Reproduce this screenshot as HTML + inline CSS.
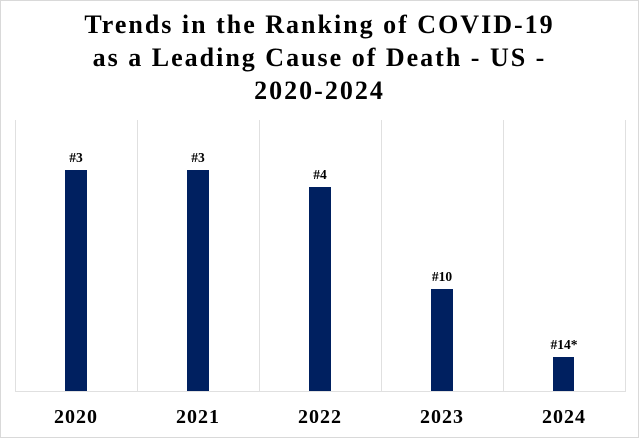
<!DOCTYPE html>
<html><head><style>
body{margin:0;background:#fff}
</style></head><body>
<svg width="639" height="438" xmlns="http://www.w3.org/2000/svg" style="display:block">
<rect x="0.5" y="0.5" width="638" height="437" fill="#fff" stroke="#d9d9d9"/>
<g font-family="Liberation Serif, serif" font-weight="bold" text-anchor="middle" fill="#000">
<text x="319.5" y="33" font-size="26" letter-spacing="2">Trends in the Ranking of COVID-19</text>
<text x="319.5" y="66" font-size="26" letter-spacing="2">as a Leading Cause of Death - US -</text>
<text x="319.5" y="99" font-size="26" letter-spacing="2">2020-2024</text>
</g>
<g stroke="#e0e0e0" stroke-width="1">
<line x1="15.5" y1="120" x2="15.5" y2="391"/>
<line x1="137.5" y1="120" x2="137.5" y2="391"/>
<line x1="259.5" y1="120" x2="259.5" y2="391"/>
<line x1="381.5" y1="120" x2="381.5" y2="391"/>
<line x1="503.5" y1="120" x2="503.5" y2="391"/>
<line x1="625.5" y1="120" x2="625.5" y2="391"/>
<line x1="15" y1="391.5" x2="626" y2="391.5"/>
</g>
<g fill="#002060">
<rect x="65" y="170" width="22" height="221"/>
<rect x="187" y="170" width="22" height="221"/>
<rect x="309" y="187" width="22" height="204"/>
<rect x="431" y="289" width="22" height="102"/>
<rect x="553" y="357" width="21" height="34"/>
</g>
<g font-family="Liberation Serif, serif" font-weight="bold" text-anchor="middle" fill="#000" font-size="13.5">
<text x="76" y="162">#3</text>
<text x="198" y="162">#3</text>
<text x="320" y="179">#4</text>
<text x="442" y="281">#10</text>
<text x="564" y="349">#14*</text>
</g>
<g font-family="Liberation Serif, serif" font-weight="bold" text-anchor="middle" fill="#000" font-size="20" letter-spacing="1">
<text x="76" y="423">2020</text>
<text x="198" y="423">2021</text>
<text x="320" y="423">2022</text>
<text x="442" y="423">2023</text>
<text x="564" y="423">2024</text>
</g>
</svg>
</body></html>
